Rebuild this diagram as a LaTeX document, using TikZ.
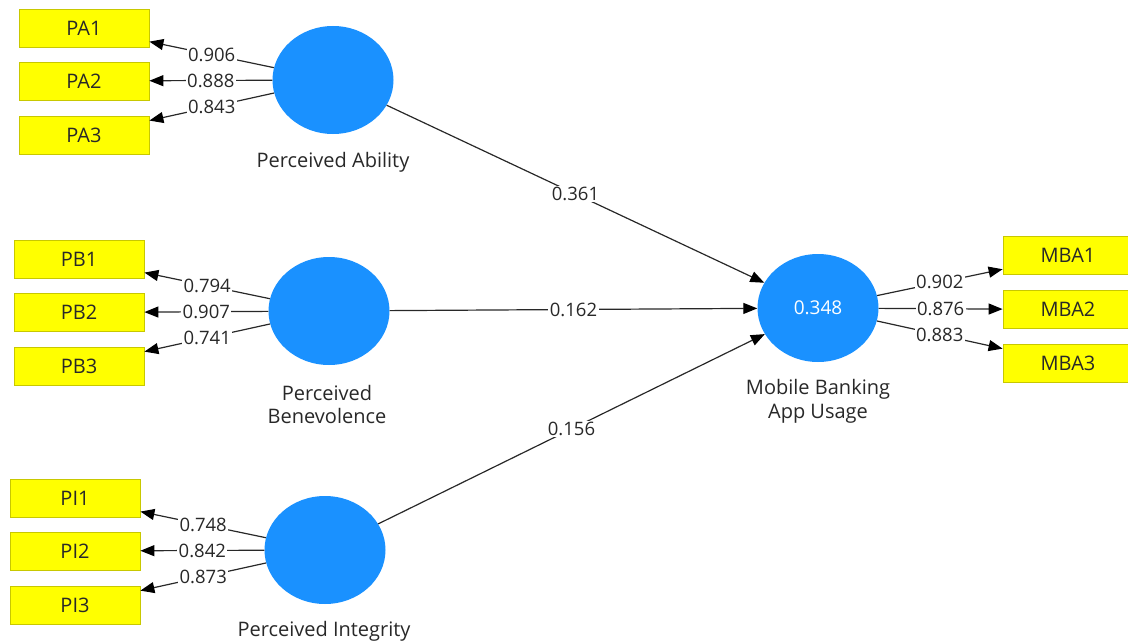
\documentclass[tikz,border=0pt]{standalone}
\usepackage{fontspec}
\setmainfont{Open Sans}
\usetikzlibrary{shapes.geometric,arrows.meta}
\definecolor{latent}{RGB}{26,145,255}
\definecolor{indicator}{RGB}{255,255,0}
\definecolor{indborder}{RGB}{200,200,0}
\definecolor{ink}{RGB}{40,40,40}
\tikzset{
  construct/.style={ellipse, fill=latent, draw=none, minimum width=121pt, minimum height=108pt, inner sep=0pt},
  itembox/.style={rectangle, fill=indicator, draw=indborder, line width=0.8pt, minimum width=130pt, minimum height=38pt, inner sep=0pt, font=\fontsize{20}{22}\selectfont, text=ink},
  caption/.style={align=center, font=\fontsize{20}{23.5}\selectfont, text=ink},
  path/.style={draw=ink, line width=1.2pt, -{Triangle[length=14pt,width=11pt,color=black]}},
  coef/.style={fill=white, inner sep=1.5pt, font=\fontsize{18.5}{20}\selectfont, text=ink}
}
\begin{document}
\begin{tikzpicture}[x=1pt,y=-1pt]
\useasboundingbox (0,0) rectangle (1128,642);

% latent constructs
\node[construct] (PA) at (333,80) {};
\node[construct] (PB) at (329,311) {};
\node[construct] (PI) at (325,550) {};
\node[construct, text=white, font=\fontsize{19}{20}\selectfont] (MBA) at (818,308) {0.348};

% construct names
\node[caption] (capPA) at (333,162) {Perceived Ability};
\node[caption] (capPB) at (327,404.5) {Perceived\\Benevolence};
\node[caption] (capPI) at (324,631) {Perceived Integrity};
\node[caption] (capMBA) at (818,401.5) {Mobile Banking\\App Usage};

% indicators
\node[itembox] (PA1) at (84,28) {PA1};
\node[itembox] (PA2) at (84,81) {PA2};
\node[itembox] (PA3) at (84,135) {PA3};
\node[itembox] (PB1) at (79,259) {PB1};
\node[itembox] (PB2) at (79,312.5) {PB2};
\node[itembox] (PB3) at (79,366) {PB3};
\node[itembox] (PI1) at (75,498) {PI1};
\node[itembox] (PI2) at (75,551) {PI2};
\node[itembox] (PI3) at (75,605) {PI3};
\node[itembox] (MBA1) at (1068,255.5) {MBA1};
\node[itembox] (MBA2) at (1068,309.5) {MBA2};
\node[itembox] (MBA3) at (1068,363) {MBA3};

% outer loadings
\draw[path] (PA) -- node[coef] {0.906} (PA1);
\draw[path] (PA) -- node[coef] {0.888} (PA2);
\draw[path] (PA) -- node[coef] {0.843} (PA3);
\draw[path] (PB) -- node[coef] {0.794} (PB1);
\draw[path] (PB) -- node[coef] {0.907} (PB2);
\draw[path] (PB) -- node[coef] {0.741} (PB3);
\draw[path] (PI) -- node[coef] {0.748} (PI1);
\draw[path] (PI) -- node[coef] {0.842} (PI2);
\draw[path] (PI) -- node[coef] {0.873} (PI3);
\draw[path] (MBA) -- node[coef] {0.902} (MBA1);
\draw[path] (MBA) -- node[coef] {0.876} (MBA2);
\draw[path] (MBA) -- node[coef] {0.883} (MBA3);

% structural paths
\draw[path] (PA) -- node[coef] {0.361} (MBA);
\draw[path] (PB) -- node[coef] {0.162} (MBA);
\draw[path] (PI) -- node[coef] {0.156} (MBA);
\end{tikzpicture}
\end{document}
